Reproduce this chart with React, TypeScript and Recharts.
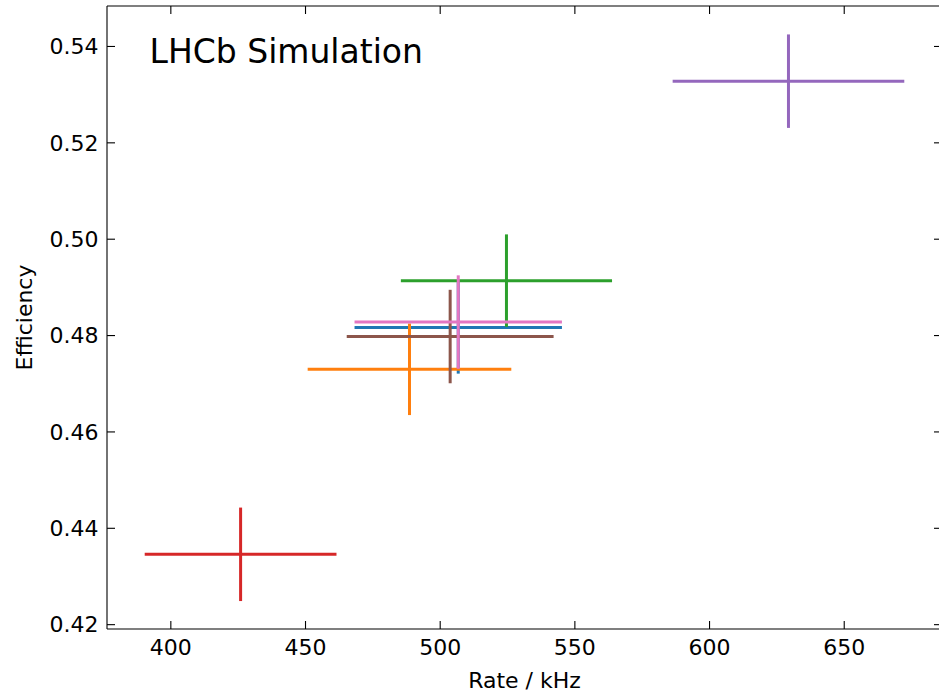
import { ScatterChart, Scatter, XAxis, YAxis, ReferenceLine, Label } from "recharts";

// one cross per configuration, matplotlib tab10 order
const rates = [506.7, 488.6, 524.6, 425.9, 629.3, 503.7, 506.7];
const rateErrs = [38.5, 37.8, 39.2, 35.6, 43.0, 38.4, 38.5];
const effs = [0.4817, 0.473, 0.4914, 0.4346, 0.5328, 0.4798, 0.4828];
const effErrs = [0.0096, 0.0095, 0.0096, 0.0097, 0.0097, 0.0097, 0.0097];
const colors = ["#1f77b4", "#ff7f0e", "#2ca02c", "#d62728", "#9467bd", "#8c564b", "#e377c2"];

const xTicks = [400, 450, 500, 550, 600, 650];
const yTicks = [0.42, 0.44, 0.46, 0.48, 0.5, 0.52, 0.54];
const xDomain: [number, number] = [376.3, 686.3];
const yDomain: [number, number] = [0.4191, 0.5484];

const FONT = "DejaVu Sans, sans-serif";
const tickStyle = { fill: "#000", fontSize: 22, fontFamily: FONT };
const lineStyle = { stroke: "#000", strokeWidth: 1.1 };
const BAR_W = 3;

const points = rates.map((r, i) => ({ x: r, y: effs[i], ex: rateErrs[i], ey: effErrs[i], color: colors[i] }));

const noDot = () => <g />;

export default function App() {
  return (
    <div style={{ position: "absolute", left: 0, top: 0, width: 939, height: 694, overflow: "hidden", background: "#fff" }}>
      <ScatterChart width={944} height={694} margin={{ top: 5, right: 1, bottom: 0, left: 0 }}>
        <XAxis
          type="number" dataKey="x" xAxisId="b" domain={xDomain} ticks={xTicks}
          height={65} tick={tickStyle} tickSize={-8} tickMargin={18}
          axisLine={lineStyle} tickLine={lineStyle} interval={0}
          allowDataOverflow
        >
          <Label
            content={({ viewBox }: any) => (
              <text x={viewBox.x + viewBox.width / 2} y={viewBox.y + 59} textAnchor="middle"
                fontSize={22} fontFamily={FONT} fill="#000">Rate / kHz</text>
            )}
          />
        </XAxis>
        <XAxis
          type="number" dataKey="x" xAxisId="t" orientation="top" domain={xDomain} ticks={xTicks}
          height={1} tickSize={-8} tickFormatter={() => ""}
          axisLine={lineStyle} tickLine={lineStyle} interval={0} allowDataOverflow
        />
        <YAxis
          type="number" dataKey="y" yAxisId="l" domain={yDomain} ticks={yTicks}
          width={107} tick={tickStyle} tickSize={-8} tickMargin={16.5}
          tickFormatter={(v: number) => v.toFixed(2)}
          axisLine={lineStyle} tickLine={lineStyle} interval={0}
          allowDataOverflow
        >
          <Label
            content={({ viewBox }: any) => {
              const cx = 32;
              const cy = viewBox.y + viewBox.height / 2;
              return (
                <text x={cx} y={cy} textAnchor="middle" transform={`rotate(-90, ${cx}, ${cy})`}
                  fontSize={22} fontFamily={FONT} fill="#000">Efficiency</text>
              );
            }}
          />
        </YAxis>
        <YAxis
          type="number" dataKey="y" yAxisId="r" orientation="right" domain={yDomain} ticks={yTicks}
          width={1} tickSize={-8} tickFormatter={() => ""}
          axisLine={lineStyle} tickLine={lineStyle} interval={0} allowDataOverflow
        />
        <Scatter data={points} xAxisId="t" yAxisId="r" shape={noDot} isAnimationActive={false} />
        <Scatter data={points} xAxisId="b" yAxisId="l" shape={noDot} isAnimationActive={false} />
        {points.flatMap((p, i) => [
          <ReferenceLine
            key={`h${i}`} xAxisId="b" yAxisId="l"
            segment={[{ x: p.x - p.ex, y: p.y }, { x: p.x + p.ex, y: p.y }]}
            stroke={p.color} strokeWidth={BAR_W} style={{ strokeWidth: BAR_W }}
          />,
          <ReferenceLine
            key={`v${i}`} xAxisId="b" yAxisId="l"
            segment={[{ x: p.x, y: p.y - p.ey }, { x: p.x, y: p.y + p.ey }]}
            stroke={p.color} strokeWidth={BAR_W} style={{ strokeWidth: BAR_W }}
          />,
        ])}
      </ScatterChart>
      <svg width={939} height={694} style={{ position: "absolute", left: 0, top: 0, pointerEvents: "none" }}>
        <text x={149.5} y={63} fontSize={33} fontFamily={FONT} fill="#000">LHCb Simulation</text>
      </svg>
    </div>
  );
}
